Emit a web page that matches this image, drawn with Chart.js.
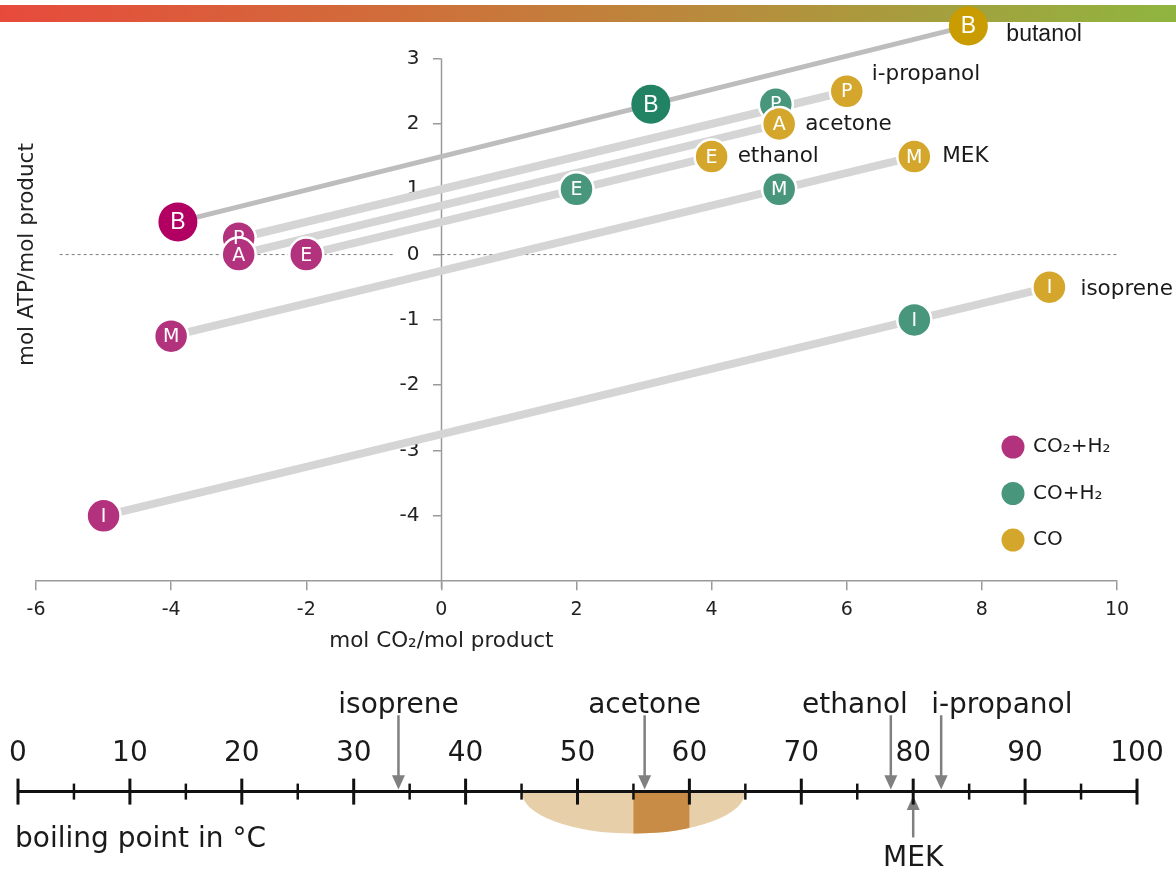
<!DOCTYPE html>
<html>
<head>
<meta charset="utf-8">
<script src="https://cdn.jsdelivr.net/npm/chart.js@4.4.1/dist/chart.umd.min.js"></script>
<style>
  body { margin: 0; background: #fff; }
  #wrap { position: relative; width: 1176px; height: 871px; overflow: hidden; }
  #bar { position: absolute; left: 0; top: 5px; width: 1176px; height: 17px;
    background: linear-gradient(to right, #e74a3c, #cf6f3a 35%, #b4903d 65%, #8fb53f); }
  #top { position: absolute; left: 0; top: 0; }
  #bottom { position: absolute; left: 0; top: 665px; }
</style>
</head>
<body>
<div id="wrap">
  <div id="bar"></div>
  <canvas id="top" width="1176" height="665"></canvas>
  <canvas id="bottom" width="1176" height="206"></canvas>
</div>
<script>
// products and the letter shown in each circle
const compounds = ["butanol", "i-propanol", "acetone", "ethanol", "MEK", "isoprene"];
const letters = ["B", "P", "A", "E", "M", "I"];

// CO2 + H2
const co2h2X = [-3.9, -3, -3, -2, -4, -5];
const co2h2Y = [0.5, 0.25, 0, 0, -1.25, -4];
// CO + H2 (acetone sits under the CO point)
const coh2X = [3.1, 4.95, null, 2, 5, 7];
const coh2Y = [2.3, 2.3, null, 1, 1, -1];
// CO
const coX = [7.8, 6, 5, 4, 7, 9];
const coY = [3.5, 2.5, 2, 1.5, 1.5, -0.5];

const xTicks = [-6, -4, -2, 0, 2, 4, 6, 8, 10];
const yTicks = [-4, -3, -2, -1, 0, 1, 2, 3];
const legendLabels = ["CO₂+H₂", "CO+H₂", "CO"];

// boiling points
const bpNames = ["isoprene", "acetone", "ethanol", "MEK", "i-propanol"];
const bpValues = [34, 56, 78, 80, 82.5];
const bpTicks = [0, 5, 10, 15, 20, 25, 30, 35, 40, 45, 50, 55, 60, 65, 70, 75, 80, 85, 90, 95, 100];
const bpRange = [45, 65];
const bpCore = [55, 60];

const FONT = '"DejaVu Sans", Verdana, sans-serif';
const magenta = "#b3327d", green = "#48967b", yellow = "#d4a72c";
const strong = { m: "#b10062", g: "#218264", y: "#c99c02" };

function pts(xs, ys) {
  return xs.map((x, i) => ({ x: x, y: ys[i], l: letters[i], big: i === 0 }))
    .filter(p => p.x !== null);
}

function dotSet(label, xs, ys, col, bigCol, order) {
  return {
    label: label,
    data: pts(xs, ys),
    letters: true,
    order: order,
    clip: false,
    pointRadius: c => c.raw && c.raw.big ? 19.5 : 17,
    pointHoverRadius: c => c.raw && c.raw.big ? 19.5 : 17,
    backgroundColor: c => c.raw && c.raw.big ? bigCol : col,
    borderColor: "#fff",
    borderWidth: c => c.raw && c.raw.big ? 0 : 2.5
  };
}

const datasets = [];
compounds.forEach((name, i) => {
  datasets.push({
    label: name,
    data: [{ x: co2h2X[i], y: co2h2Y[i] }, { x: coX[i], y: coY[i] }],
    showLine: true,
    pointRadius: 0,
    borderColor: i === 0 ? "#bdbdbd" : "#d5d5d5",
    borderWidth: i === 0 ? 5 : 8,
    borderCapStyle: "butt",
    clip: false,
    order: 10
  });
});
[[-5.65, -0.7], [0, 10]].forEach(seg => {
  datasets.push({
    data: [{ x: seg[0], y: 0 }, { x: seg[1], y: 0 }],
    showLine: true, pointRadius: 0,
    borderColor: "#7a7a7a", borderWidth: 1, borderDash: [3, 3],
    order: 20
  });
});
datasets.push(dotSet("CO2+H2", co2h2X, co2h2Y, magenta, strong.m, 3));
datasets.push(dotSet("CO+H2", coh2X, coh2Y, green, strong.g, 2));
datasets.push(dotSet("CO", coX, coY, yellow, strong.y, 1));

const nameOffsets = [[38, 9], [25, -17], [26, 0], [26, 0], [28, 0], [31, 2]];

const topDecor = {
  id: "topDecor",
  beforeDatasetsDraw(chart) {
    // y axis line stops at the top tick, tick labels left of the tick marks
    const ctx = chart.ctx, ys = chart.scales.y, xs = chart.scales.x;
    const ax = Math.round(xs.getPixelForValue(0)) + 0.5;
    ctx.save();
    ctx.strokeStyle = "#9a9a9a";
    ctx.lineWidth = 1.5;
    ctx.beginPath();
    ctx.moveTo(ax, ys.getPixelForValue(yTicks[yTicks.length - 1]));
    ctx.lineTo(ax, ys.bottom + 7);
    ctx.stroke();
    ctx.fillStyle = "#222";
    ctx.font = "20px " + FONT;
    ctx.textAlign = "right";
    ctx.textBaseline = "middle";
    yTicks.forEach(v => ctx.fillText(String(v), ax - 22, ys.getPixelForValue(v)));
    ctx.restore();
  },
  afterDatasetsDraw(chart) {
    const ctx = chart.ctx;
    chart.data.datasets.forEach((ds, i) => {
      if (!ds.letters) return;
      chart.getDatasetMeta(i).data.forEach((el, j) => {
        const p = ds.data[j];
        ctx.save();
        ctx.fillStyle = "#fff";
        ctx.font = p.big ? '23px "Liberation Sans"' : "19px " + FONT;
        ctx.textAlign = "center";
        ctx.textBaseline = "middle";
        ctx.fillText(p.l, el.x, el.y + 1);
        ctx.restore();
      });
    });
    // names next to CO points
    const xs = chart.scales.x, ys = chart.scales.y;
    ctx.save();
    ctx.fillStyle = "#1a1a1a";
    ctx.textBaseline = "middle";
    compounds.forEach((name, i) => {
      ctx.font = i === 0 ? '23px "Liberation Sans"' : "21.5px " + FONT;
      ctx.fillText(name, xs.getPixelForValue(coX[i]) + nameOffsets[i][0],
        ys.getPixelForValue(coY[i]) + nameOffsets[i][1]);
    });
    ctx.restore();
  },
  afterDraw(chart) {
    const ctx = chart.ctx, xs = chart.scales.x, ys = chart.scales.y;
    ctx.save();
    ctx.fillStyle = "#222";
    ctx.font = "21.5px " + FONT;
    ctx.textAlign = "center";
    ctx.textBaseline = "middle";
    ctx.fillText("mol CO₂/mol product", xs.getPixelForValue(0), xs.bottom + 12);
    ctx.translate(27, ys.getPixelForValue(0));
    ctx.rotate(-Math.PI / 2);
    ctx.fillText("mol ATP/mol product", 0, 0);
    ctx.restore();
    // legend
    const cols = [magenta, green, yellow];
    ctx.save();
    ctx.font = "20px " + FONT;
    ctx.textBaseline = "middle";
    legendLabels.forEach((t, i) => {
      const y = 447 + i * 46.5;
      ctx.beginPath();
      ctx.arc(1013, y, 11.5, 0, Math.PI * 2);
      ctx.fillStyle = cols[i];
      ctx.fill();
      ctx.fillStyle = "#1a1a1a";
      ctx.fillText(t, 1033, y);
    });
    ctx.restore();
  }
};

new Chart(document.getElementById("top"), {
  type: "scatter",
  data: { datasets: datasets },
  options: {
    responsive: false,
    animation: false,
    layout: { padding: { left: 36, right: 59, top: 39, bottom: 36 } },
    plugins: { legend: { display: false }, tooltip: { enabled: false } },
    scales: {
      x: {
        type: "linear", min: -6, max: 10, position: "bottom",
        afterBuildTicks: s => { s.ticks = xTicks.map(v => ({ value: v })); },
        grid: { drawOnChartArea: false, tickLength: 9, color: "#9a9a9a", lineWidth: 1.5 },
        border: { color: "#9a9a9a", width: 1.5 },
        ticks: { font: { family: FONT, size: 19 }, color: "#222", padding: 8, maxRotation: 0 }
      },
      y: {
        type: "linear", min: -5, max: 3.3, position: { x: 0 },
        afterBuildTicks: s => { s.ticks = yTicks.map(v => ({ value: v })); },
        grid: { drawOnChartArea: false, tickLength: 8, color: "#9a9a9a", lineWidth: 1.5 },
        border: { display: false },
        ticks: { display: false }
      }
    }
  },
  plugins: [topDecor]
});

// ---- boiling point scale ----
// y units are pixels above (+) or below (-) the axis line
const bpSets = bpValues.map((v, i) => {
  const up = bpNames[i] === "MEK";
  return {
    label: bpNames[i],
    data: up ? [{ x: v, y: -45 }, { x: v, y: -16 }] : [{ x: v, y: 75 }, { x: v, y: 14 }],
    showLine: true,
    clip: false,
    borderColor: "#808080",
    borderWidth: 2.5,
    pointRadius: 0
  };
});

const bpDecor = {
  id: "bpDecor",
  beforeDraw(chart) {
    const ctx = chart.ctx, xs = chart.scales.x;
    const ay = xs.bottom;
    const l = xs.getPixelForValue(bpRange[0]), r = xs.getPixelForValue(bpRange[1]);
    ctx.save();
    ctx.beginPath();
    ctx.ellipse((l + r) / 2, ay, (r - l) / 2, 42, 0, 0, Math.PI);
    ctx.closePath();
    ctx.fillStyle = "#e7d0a9";
    ctx.fill();
    ctx.clip();
    const a = xs.getPixelForValue(bpCore[0]), b = xs.getPixelForValue(bpCore[1]);
    ctx.fillStyle = "#c98c47";
    ctx.fillRect(a, ay, b - a, 50);
    ctx.restore();
  },
  afterDatasetsDraw(chart) {
    // arrow heads
    const ctx = chart.ctx, xs = chart.scales.x, ys = chart.scales.y;
    ctx.save();
    ctx.fillStyle = "#808080";
    bpNames.forEach((n, i) => {
      const px = xs.getPixelForValue(bpValues[i]);
      const up = n === "MEK";
      const tip = ys.getPixelForValue(up ? -4 : 2);
      const base = ys.getPixelForValue(up ? -18 : 16);
      ctx.beginPath();
      ctx.moveTo(px, tip);
      ctx.lineTo(px - 6.5, base);
      ctx.lineTo(px + 6.5, base);
      ctx.closePath();
      ctx.fill();
    });
    ctx.restore();
  },
  afterDraw(chart) {
    const ctx = chart.ctx, xs = chart.scales.x, ys = chart.scales.y;
    const ay = xs.bottom;
    ctx.save();
    ctx.strokeStyle = "#111";
    xs.ticks.forEach(t => {
      const px = xs.getPixelForValue(t.value);
      const major = t.value % 10 === 0;
      const h = major ? 13 : 8;
      ctx.lineWidth = major ? 3 : 2.5;
      ctx.beginPath();
      ctx.moveTo(px, ay - h);
      ctx.lineTo(px, ay + h);
      ctx.stroke();
    });
    ctx.fillStyle = "#1a1a1a";
    ctx.font = "28px " + FONT;
    ctx.textBaseline = "middle";
    bpNames.forEach((n, i) => {
      const px = xs.getPixelForValue(bpValues[i]);
      if (n === "MEK") {
        ctx.textAlign = "center";
        ctx.fillText(n, px, ys.getPixelForValue(-66));
      } else if (n === "ethanol") {
        ctx.textAlign = "right";
        ctx.fillText(n, px + 17, ys.getPixelForValue(84));
      } else if (n === "i-propanol") {
        ctx.textAlign = "left";
        ctx.fillText(n, px - 10, ys.getPixelForValue(84));
      } else {
        ctx.textAlign = "center";
        ctx.fillText(n, px, ys.getPixelForValue(84));
      }
    });
    ctx.textAlign = "left";
    ctx.fillText("boiling point in °C", 15, ys.getPixelForValue(-47));
    ctx.restore();
  }
};

new Chart(document.getElementById("bottom"), {
  type: "scatter",
  data: { datasets: bpSets },
  options: {
    responsive: false,
    animation: false,
    layout: { padding: { left: 18, right: 39, top: 63, bottom: 0 } },
    plugins: { legend: { display: false }, tooltip: { enabled: false } },
    scales: {
      x: {
        type: "linear", min: 0, max: 100, position: "top",
        afterBuildTicks: s => { s.ticks = bpTicks.map(v => ({ value: v })); },
        grid: { drawOnChartArea: false, tickLength: 12, color: "rgba(0,0,0,0)" },
        border: { color: "#111", width: 3 },
        ticks: {
          autoSkip: false, maxRotation: 0, padding: 9,
          font: { family: FONT, size: 28 }, color: "#1a1a1a",
          callback: v => v % 10 === 0 ? v : ""
        }
      },
      y: { display: false, min: -78, max: 0 }
    }
  },
  plugins: [bpDecor]
});
</script>
</body>
</html>
